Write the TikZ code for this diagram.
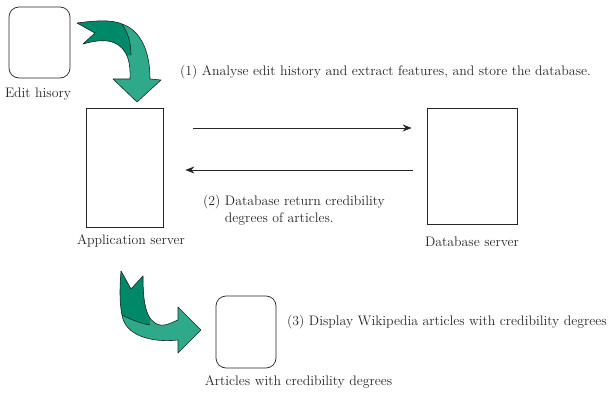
\documentclass[tikz,border=0pt]{standalone}
\usetikzlibrary{arrows.meta}
\definecolor{gdark}{RGB}{0,137,104}
\definecolor{glight}{RGB}{46,170,138}
\definecolor{edge}{RGB}{30,40,35}
\begin{document}
\begin{tikzpicture}[x=1pt,y=-1pt,
  every node/.style={font=\fontsize{13.8}{16.5}\selectfont, text=black!85, inner sep=0pt},
  rbox/.style={draw=black!85, line width=0.7pt, rounded corners=10pt},
  sbox/.style={draw=black!85, line width=0.7pt},
  lbl/.style={},
  conn/.style={draw=black!85, line width=0.7pt, -{Stealth[length=9pt,width=7pt]}},
  bigarrow/.style={draw=edge, line width=0.6pt, line join=round}]
\useasboundingbox (0,0) rectangle (611,396);

% boxes
\node[rbox, minimum width=61, minimum height=71] (edit) at (39.5,42.5) {};
\node[lbl] (editl) at (38,94) {Edit hisory};
\node[sbox, minimum width=77, minimum height=119] (app) at (124.5,167.5) {};
\node[lbl] (appl) at (131,241) {Application server};
\node[sbox, minimum width=90, minimum height=116] (db) at (472,166) {};
\node[lbl] (dbl) at (472,242) {Database server};
\node[rbox, minimum width=60, minimum height=72] (art) at (246,332) {};
\node[lbl] (artl) at (298.5,382) {Articles with credibility degrees};

% texts
\node[lbl, anchor=west] (t1) at (180,72) {(1) Analyse edit history and extract features, and store the database.};
\node[lbl, anchor=north west, align=left] (t2) at (203,195) {(2) Database return credibility\\\phantom{(2) }degrees of articles.};
\node[lbl, anchor=west] (t3) at (287,322) {(3) Display Wikipedia articles with credibility degrees};

% connectors
\coordinate (r1) at (0,128);
\coordinate (r2) at (0,170);
\draw[conn] ([xshift=30]app.east |- r1) -- ([xshift=-15]db.west |- r1);
\draw[conn] ([xshift=-14]db.west |- r2) -- ([xshift=22]app.east |- r2);

% curved arrow 1
\def\arrowA{(77,23) .. controls (100,20) and (112,20) .. (122,24)
  .. controls (140,30) and (150,50) .. (150,79) -- (161,80) -- (137,102) -- (113,79) -- (130,79)
  .. controls (131,58) and (125,44) .. (108,41) .. controls (98,40) and (90,42) .. (83,44)
  -- (95,33) -- cycle}
\fill[glight] \arrowA;
\begin{scope}
  \clip \arrowA;
  \fill[gdark] (60,5) -- (122,5) -- (122,24) .. controls (128,33) and (131,42) .. (131,55) -- (60,70) -- cycle;
\end{scope}
\draw[bigarrow] (122,24) .. controls (128,33) and (131,42) .. (131,55);
\draw[bigarrow] \arrowA;

% curved arrow 2
\def\arrowB{(121,271) -- (131,289) -- (143,276)
  .. controls (143,300) and (145,322) .. (160,325) .. controls (168,326) and (174,321) .. (178,320)
  -- (178,307) -- (201,330) -- (178,353) -- (178,340)
  .. controls (150,343) and (125,335) .. (122,315) .. controls (119,300) and (120,285) .. (121,271) -- cycle}
\fill[glight] \arrowB;
\begin{scope}
  \clip \arrowB;
  \fill[gdark] (110,260) -- (150,260) -- (150,325) .. controls (142,324) and (132,320) .. (122,315) -- (110,315) -- cycle;
\end{scope}
\draw[bigarrow] (122,315) .. controls (132,320) and (142,324) .. (150,325);
\draw[bigarrow] \arrowB;
\end{tikzpicture}
\end{document}
